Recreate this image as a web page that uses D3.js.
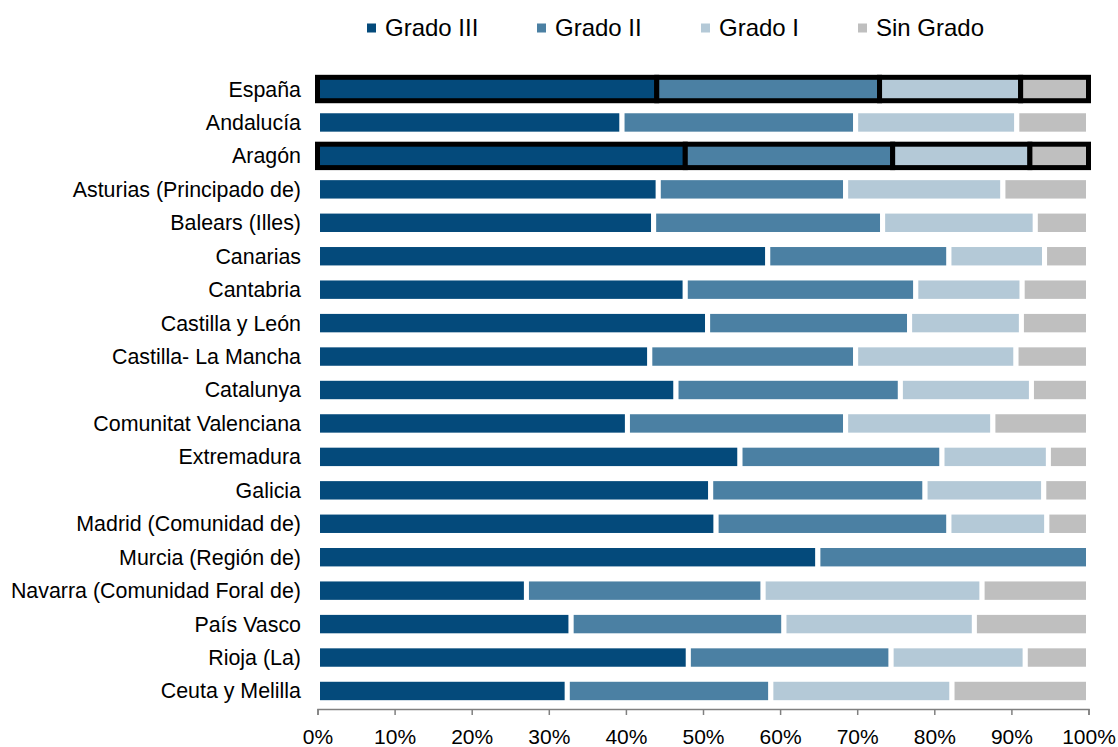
<!DOCTYPE html>
<html>
<head>
<meta charset="utf-8">
<script src="https://cdn.jsdelivr.net/npm/d3@7"></script>
<style>
  html, body { margin: 0; padding: 0; background: #fff; }
  svg { display: block; font-family: "Liberation Sans", Arial, sans-serif; }
</style>
</head>
<body>
<svg id="chart" width="1118" height="747"></svg>
<script>
// Regions (top to bottom)
const regions = [
  "España", "Andalucía", "Aragón", "Asturias (Principado de)", "Balears (Illes)",
  "Canarias", "Cantabria", "Castilla y León", "Castilla- La Mancha", "Catalunya",
  "Comunitat Valenciana", "Extremadura", "Galicia", "Madrid (Comunidad de)",
  "Murcia (Región de)", "Navarra (Comunidad Foral de)", "País Vasco", "Rioja (La)",
  "Ceuta y Melilla"
];

// Share of each dependency grade (%)
const gradoIII = [44.0, 39.5, 47.7, 44.2, 43.6, 58.4, 47.7, 50.6, 43.1, 46.5, 40.2, 54.8, 51.0, 51.7, 64.9, 27.1, 32.9, 48.1, 32.4];
const gradoII  = [28.9, 30.3, 26.9, 24.3, 29.7, 23.5, 29.9, 26.2, 26.7, 29.1, 28.3, 26.2, 27.8, 30.2, 35.1, 30.7, 27.6, 26.3, 26.4];
const gradoI   = [18.3, 20.9, 17.8, 20.4, 19.8, 12.4, 13.8, 14.5, 20.8, 17.0, 19.1, 13.8, 15.4, 12.7,  0.0, 28.4, 24.7, 17.4, 23.5];
const sinGrado = [ 8.8,  9.3,  7.6, 11.1,  6.9,  5.7,  8.6,  8.7,  9.4,  7.4, 12.4,  5.2,  5.8,  5.4,  0.0, 13.8, 14.8,  8.2, 17.7];

// Rows drawn with a heavy outline
const highlighted = ["España", "Aragón"];

const seriesNames = ["Grado III", "Grado II", "Grado I", "Sin Grado"];
const seriesColors = ["#044a7b", "#4b80a3", "#b4c9d7", "#bfbfbf"];
const tickValues = [0, 10, 20, 30, 40, 50, 60, 70, 80, 90, 100];

const svg = d3.select("#chart");
const labelSize = 21.4;
const tickSize = 21;
const legendSize = 24;

const rows = regions.map((r, i) => ({
  region: r,
  "Grado III": gradoIII[i],
  "Grado II": gradoII[i],
  "Grado I": gradoI[i],
  "Sin Grado": sinGrado[i]
}));

const stacked = d3.stack().keys(seriesNames)(rows);

const x = d3.scaleLinear().domain([0, 100]).range([317.5, 1088.5]);
const y = d3.scaleBand().domain(regions).range([72.3, 707.7])
  .paddingInner(0.3).paddingOuter(0.15);
const color = d3.scaleOrdinal().domain(seriesNames).range(seriesColors);

// Bars
const layers = svg.append("g").selectAll("g")
  .data(stacked)
  .join("g")
  .attr("fill", d => color(d.key));

layers.selectAll("rect")
  .data(d => d.filter(s => s[1] - s[0] > 0))
  .join("rect")
  .attr("x", d => x(d[0]))
  .attr("width", d => x(d[1]) - x(d[0]))
  .attr("y", d => y(d.data.region))
  .attr("height", y.bandwidth())
  .attr("stroke", d => highlighted.includes(d.data.region) ? "#000" : "#fff")
  .attr("stroke-width", 5);

// Bring outlined rows to front so their borders are continuous
svg.selectAll("rect").filter(d => highlighted.includes(d.data.region)).raise();

// Category labels
svg.append("g").selectAll("text")
  .data(regions)
  .join("text")
  .attr("x", 301)
  .attr("y", d => y(d) + y.bandwidth() / 2)
  .attr("dy", "0.35em")
  .attr("text-anchor", "end")
  .attr("font-size", labelSize)
  .attr("fill", "#000")
  .text(d => d);

// X axis
const axis = svg.append("g")
  .attr("transform", "translate(0,709)")
  .call(d3.axisBottom(x).tickValues(tickValues).tickFormat(d => d + "%")
    .tickSizeInner(6).tickSizeOuter(6).tickPadding(14.5));
axis.select(".domain").attr("stroke", "#808080").attr("stroke-width", 1.5);
axis.selectAll(".tick line").attr("stroke", "#808080").attr("stroke-width", 1.5);
axis.selectAll(".tick text")
  .attr("font-size", tickSize)
  .attr("font-family", "\"Liberation Sans\", Arial, sans-serif")
  .attr("fill", "#000");

// Legend
const legendX = [367, 537, 701, 858];
const legend = svg.append("g").selectAll("g")
  .data(seriesNames)
  .join("g")
  .attr("transform", (d, i) => `translate(${legendX[i]},28)`);
legend.append("rect")
  .attr("x", 0).attr("y", -4.5)
  .attr("width", 9).attr("height", 9)
  .attr("fill", d => color(d));
legend.append("text")
  .attr("x", 18)
  .attr("dy", "0.35em")
  .attr("font-size", legendSize)
  .attr("fill", "#000")
  .text(d => d);
</script>
</body>
</html>
